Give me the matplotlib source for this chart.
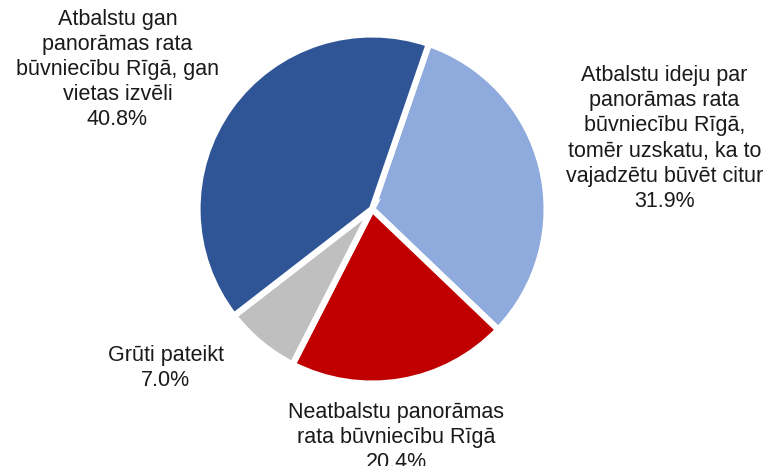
import matplotlib.pyplot as plt

# slice data, clockwise from the top-right
labels = ['Atbalstu ideju par\npanorāmas rata\nbūvniecību Rīgā,\ntomēr uzskatu, ka to\nvajadzētu būvēt citur',
          'Neatbalstu panorāmas\nrata būvniecību Rīgā',
          'Grūti pateikt',
          'Atbalstu gan\npanorāmas rata\nbūvniecību Rīgā, gan\nvietas izvēli']
values = [31.9, 20.4, 7.0, 40.8]
colors = ['#8FAADC', '#C00000', '#BFBFBF', '#2F5597']

# label centres (pie radius = 1)
label_pos = [(1.70, 0.41), (0.14, -1.33), (-1.20, -0.925), (-1.48, 0.81)]

plt.rcParams['font.family'] = ['Liberation Sans', 'DejaVu Sans']

fig = plt.figure(figsize=(7.73, 4.66), dpi=100)
ax = fig.add_axes([0, 0, 1, 1])

ax.pie(values, colors=colors, startangle=71, counterclock=False, radius=1.015,
       wedgeprops={'edgecolor': 'white', 'linewidth': 4.5})

for lab, v, (x, y) in zip(labels, values, label_pos):
    ax.text(x, y, lab + '\n' + f'{v:.1f}%', ha='center', va='center',
            fontsize=15.5, color='#1a1a1a', linespacing=1.26)

ax.set_xlim(-2.163, 2.331)
ax.set_ylim(-1.494, 1.215)
ax.set_aspect('auto')
ax.axis('off')

plt.savefig('out.png', dpi=100)
